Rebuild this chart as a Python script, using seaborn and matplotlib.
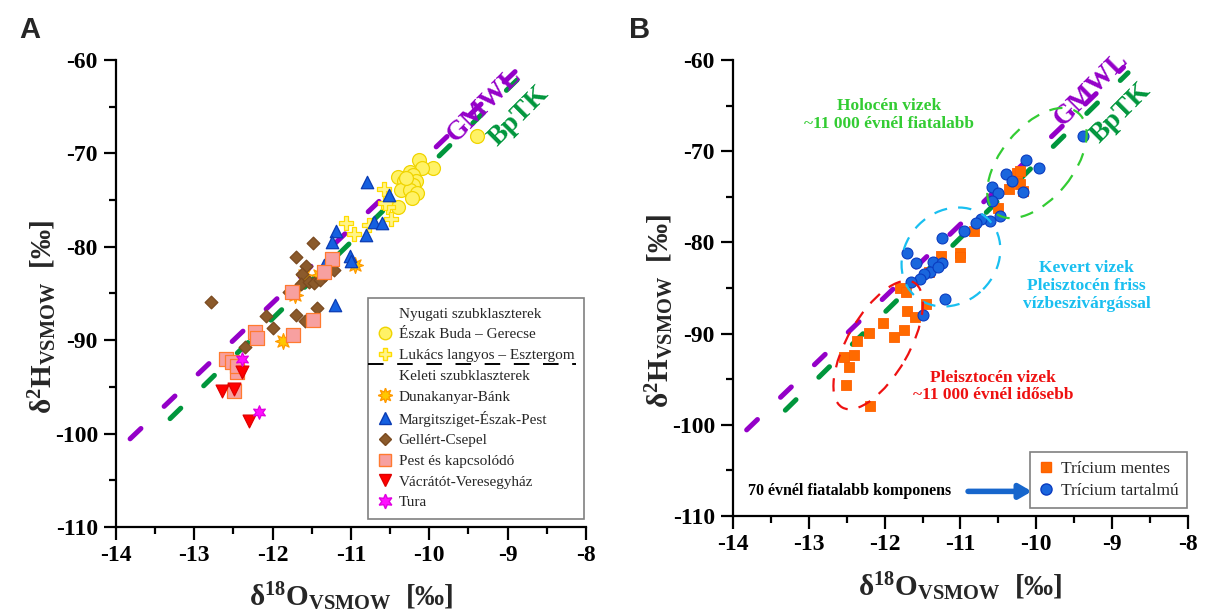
import numpy as np
import pandas as pd
import matplotlib
matplotlib.use("Agg")
import matplotlib.pyplot as plt
import seaborn as sns
from matplotlib.lines import Line2D
from matplotlib.patches import Ellipse

# ---------------- data (panel A) ----------------
eszak_buda_x = [-9.39, -10.13, -9.95, -10.09, -10.25, -10.40, -10.21, -10.32, -10.17, -10.21, -10.36, -10.25, -10.16, -10.22, -10.40, -10.30]
eszak_buda_y = [-68.1, -70.7, -71.6, -71.6, -72.0, -72.5, -72.3, -73.0, -73.0, -73.4, -73.9, -73.9, -74.2, -74.8, -75.7, -72.6]
lukacs_x = [-10.58, -10.53, -10.49, -11.07, -10.96, -10.77, -10.56]
lukacs_y = [-73.8, -75.7, -77.0, -77.5, -78.6, -77.7, -75.3]
dunakanyar_x = [-10.95, -11.60, -11.41, -11.71, -11.87]
dunakanyar_y = [-81.9, -83.0, -83.0, -85.2, -90.1]
margit_x = [-10.79, -10.51, -10.71, -10.60, -10.81, -11.19, -11.24, -11.01, -11.00, -11.35, -11.21]
margit_y = [-73.1, -74.5, -77.3, -77.5, -78.7, -78.3, -79.5, -81.0, -81.5, -82.0, -86.2]
gellert_x = [-11.49, -11.70, -11.57, -11.62, -11.64, -11.54, -11.47, -11.39, -11.33, -11.22, -11.79, -12.79, -12.08, -11.99, -11.70, -11.59, -11.44, -12.35]
gellert_y = [-79.6, -81.1, -82.1, -82.9, -84.0, -83.8, -83.9, -83.6, -83.0, -82.5, -84.8, -85.9, -87.4, -88.7, -87.3, -87.9, -86.6, -90.7]
pest_x = [-11.24, -11.35, -11.75, -11.49, -11.74, -12.22, -12.20, -12.59, -12.52, -12.46, -12.49, -12.46]
pest_y = [-81.3, -82.7, -84.8, -87.8, -89.4, -89.1, -89.8, -92.0, -92.3, -93.4, -95.4, -92.8]
vacratot_x = [-12.39, -12.65, -12.49, -12.30]
vacratot_y = [-93.4, -95.4, -95.2, -98.7]
tura_x = [-12.39, -12.18]
tura_y = [-92.0, -97.7]

# ---------------- data (panel B) ----------------
tartalmu_x = [-9.38, -10.13, -9.96, -10.40, -10.32, -10.18, -10.58, -10.51, -10.58, -10.48, -10.61, -10.73, -10.79, -10.96, -11.25, -11.71, -11.59, -11.36, -11.25, -11.40, -11.48, -11.53, -11.65, -11.21, -11.50, -11.30]
tartalmu_y = [-68.3, -71.0, -71.8, -72.5, -73.3, -74.5, -73.9, -74.6, -75.5, -77.1, -77.6, -77.4, -77.9, -78.8, -79.5, -81.2, -82.3, -82.1, -82.3, -83.3, -83.5, -84.0, -84.3, -86.2, -88.0, -82.7]
mentes_x = [-10.26, -10.21, -10.22, -10.17, -10.36, -10.51, -10.82, -11.01, -11.00, -11.26, -11.41, -11.80, -11.72, -11.45, -11.71, -11.60, -12.02, -12.20, -11.75, -11.88, -12.37, -12.53, -12.40, -12.47, -12.51, -12.19]
mentes_y = [-72.4, -72.2, -73.6, -74.4, -74.1, -76.2, -78.7, -81.2, -81.6, -81.5, -83.2, -85.0, -85.4, -86.8, -87.5, -88.2, -88.8, -89.9, -89.6, -90.4, -90.8, -92.6, -92.3, -93.7, -95.6, -97.9]

# reference lines (end points)
gmwl_x = [-13.82, -8.85]
gmwl_y = [-100.56, -60.8]
bptk_x = [-13.31, -8.79]
bptk_y = [-98.4, -61.4]

x_ticks = [-14, -13, -12, -11, -10, -9, -8]
y_ticks = [-110, -100, -90, -80, -70, -60]

# ---------------- style ----------------
sns.set_theme(style="ticks")
plt.rcParams["font.family"] = ["Liberation Serif", "DejaVu Serif"]
plt.rcParams["mathtext.fontset"] = "custom"
plt.rcParams["mathtext.rm"] = "Liberation Serif"
plt.rcParams["mathtext.bf"] = "Liberation Serif:bold"
plt.rcParams["mathtext.it"] = "Liberation Serif:italic"
plt.rcParams["axes.unicode_minus"] = False

PURPLE = "#9400c8"
GREEN = "#00963c"

fig = plt.figure(figsize=(12.05, 6.15), dpi=100)
fig.patch.set_facecolor("white")
W, H = 1205, 615
axA = fig.add_axes([116 / W, 1 - 527 / H, (586 - 116) / W, (527 - 60) / H])
axB = fig.add_axes([733 / W, 1 - 516 / H, (1188 - 733) / W, (516 - 60) / H])


def style(ax):
    ax.set_facecolor("white")
    ax.set_xlim(-14, -8)
    ax.set_ylim(-110, -60)
    sns.despine(ax=ax)
    for s in ["left", "bottom"]:
        ax.spines[s].set_linewidth(1.6)
        ax.spines[s].set_color("black")
    ax.set_xticks(x_ticks)
    ax.set_xticklabels([str(v) for v in x_ticks])
    ax.set_xticks([v + 0.5 for v in x_ticks[:-1]], minor=True)
    ax.set_yticks(y_ticks)
    ax.set_yticklabels([str(v) for v in y_ticks])
    ax.set_yticks([v + 5 for v in y_ticks[:-1]], minor=True)
    ax.tick_params(which="major", length=9, width=1.6, direction="out",
                   labelsize=17, pad=4, colors="black")
    ax.tick_params(which="minor", length=5, width=1.6, direction="out", colors="black")
    for lab in ax.get_xticklabels() + ax.get_yticklabels():
        lab.set_fontweight("bold")
    ax.set_xlabel(r"$\mathbf{δ^{18}O_{VSMOW}}$  [‰]", fontsize=21, fontweight="bold")
    ax.set_ylabel(r"$\mathbf{δ^{2}H_{VSMOW}}$  [‰]", fontsize=21, fontweight="bold")


def ref_lines(ax):
    lw = 3.6
    sns.lineplot(x=gmwl_x, y=gmwl_y, ax=ax, color=PURPLE, lw=lw,
                 dashes=False, zorder=2)
    sns.lineplot(x=bptk_x, y=bptk_y, ax=ax, color=GREEN, lw=lw,
                 dashes=False, zorder=2)
    for ln in ax.get_lines()[-2:]:
        ln.set_dashes((3.0, 6.4))
        ln.set_dash_capstyle("round")


for ax in (axA, axB):
    style(ax)
    ref_lines(ax)

# ---------------- panel A scatter ----------------
groupsA = [
    ("Észak Buda – Gerecse", eszak_buda_x, eszak_buda_y, "o", 100, "#fff266", "#f0d400"),
    ("Lukács langyos – Esztergom", lukacs_x, lukacs_y, "P", 90, "#fff48a", "#ffdc00"),
    ("Dunakanyar-Bánk", dunakanyar_x, dunakanyar_y, (8, 1, 0), 130, "#ffc800", "#ff9a00"),
    ("Margitsziget-Észak-Pest", margit_x, margit_y, "^", 80, "#1560e0", "#0a3cb4"),
    ("Gellért-Csepel", gellert_x, gellert_y, "D", 42, "#8b5a2b", "#7a4a20"),
    ("Pest és kapcsolódó", pest_x, pest_y, "s", 100, "#f7a0a0", "#ff7a30"),
    ("Vácrátót-Veresegyház", vacratot_x, vacratot_y, "v", 85, "#ff0000", "#e00000"),
    ("Tura", tura_x, tura_y, (6, 1, 0), 95, "#ff10ff", "#e000e0"),
]
for name, gx, gy, mk, s, fc, ec in groupsA:
    sns.scatterplot(x=gx, y=gy, ax=axA, marker=mk, s=s, color=fc,
                    edgecolor=ec, linewidth=0.9, zorder=3, legend=False)

axA.text(-9.30, -64.8, "GMWL", color=PURPLE, fontsize=20, fontweight="bold",
         rotation=45, ha="center", va="center", rotation_mode="anchor")
axA.text(-8.86, -66.0, "BpTK", color=GREEN, fontsize=20, fontweight="bold",
         rotation=45, ha="center", va="center", rotation_mode="anchor")


def hdr(lab):
    return Line2D([], [], linestyle="none", marker="None", label=lab)


def mh(name, mk, fc, ec, ms):
    return Line2D([], [], linestyle="none", marker=mk, markersize=ms,
                  markerfacecolor=fc, markeredgecolor=ec, label=name)


msz = {"o": 9, "P": 9, "^": 9, "D": 6.5, "s": 9, "v": 9}
hA = [hdr("Nyugati szubklaszterek")]
for i, (name, gx, gy, mk, s, fc, ec) in enumerate(groupsA):
    if i == 2:
        hA.append(hdr("Keleti szubklaszterek"))
    hA.append(mh(name, mk, fc, ec, msz.get(mk, 10) if isinstance(mk, str) else 10.5))

legA = axA.legend(handles=hA, loc="lower right", bbox_to_anchor=(0.995, 0.018),
                  fontsize=11, frameon=True, fancybox=False, edgecolor="#808080",
                  framealpha=1, labelspacing=0.46, handletextpad=0.4,
                  handlelength=1.0, borderpad=0.6, borderaxespad=0)
legA.get_frame().set_linewidth(1.2)

# ---------------- panel B scatter ----------------
sns.scatterplot(x=mentes_x, y=mentes_y, ax=axB, marker="s", s=60, color="#ff6a00",
                edgecolor="#ff6000", linewidth=0.6, zorder=3, legend=False)
sns.scatterplot(x=tartalmu_x, y=tartalmu_y, ax=axB, marker="o", s=62, color="#1a66dd",
                edgecolor="#0a3cc0", linewidth=0.8, zorder=4, legend=False)

axB.text(-9.28, -63.2, "GMWL", color=PURPLE, fontsize=20, fontweight="bold",
         rotation=45, ha="center", va="center", rotation_mode="anchor")
axB.text(-8.88, -65.8, "BpTK", color=GREEN, fontsize=20, fontweight="bold",
         rotation=45, ha="center", va="center", rotation_mode="anchor")

# group ellipses (axes coordinates)
for (cx, cy, w, h, ang, col) in [
    (0.668, 0.774, 0.285, 0.158, 50.5, "#33cc33"),
    (0.479, 0.568, 0.233, 0.200, 45.0, "#19bff0"),
    (0.319, 0.375, 0.316, 0.135, 60.0, "#ee1111"),
]:
    e = Ellipse((cx, cy), w, h, angle=ang, transform=axB.transAxes, fill=False,
                edgecolor=col, lw=1.6, linestyle=(0, (6, 5)), zorder=5)
    axB.add_patch(e)

axB.text(-11.94, -66.0, "Holocén vizek\n~11 000 évnél fiatalabb", color="#33cc33",
         fontsize=12.5, fontweight="bold", ha="center", va="center", linespacing=1.15)
axB.text(-9.34, -84.8, "Kevert vizek\nPleisztocén friss\nvízbeszivárgással", color="#19bff0",
         fontsize=12.5, fontweight="bold", ha="center", va="center", linespacing=1.15)
axB.text(-10.57, -95.8, "Pleisztocén vizek\n~11 000 évnél idősebb", color="#ee1111",
         fontsize=12.5, fontweight="bold", ha="center", va="center", linespacing=1.15)
axB.text(-12.46, -107.3, "70 évnél fiatalabb komponens", color="black",
         fontsize=11.5, fontweight="bold", ha="center", va="center")
axB.annotate("", xy=(-10.06, -107.3), xytext=(-10.90, -107.3),
             arrowprops=dict(arrowstyle="-|>,head_length=0.6,head_width=0.35",
                             color="#1766cc", lw=4, shrinkA=0, shrinkB=0))

hB = [mh("Trícium mentes", "s", "#ff6a00", "#ff6000", 7.5),
      mh("Trícium tartalmú", "o", "#1a66dd", "#0a3cc0", 8)]
legB = axB.legend(handles=hB, loc="lower right", bbox_to_anchor=(0.998, 0.018),
                  fontsize=12.5, frameon=True, fancybox=False, edgecolor="#808080",
                  framealpha=1, labelspacing=0.35, handletextpad=0.45,
                  handlelength=0.8, borderpad=0.5, borderaxespad=0)
legB.get_frame().set_linewidth(1.2)

# axis label positions
axA.yaxis.set_label_coords(-0.122, 0.45)
axA.xaxis.set_label_coords(0.50, -0.115)
axB.yaxis.set_label_coords(-0.126, 0.45)
axB.xaxis.set_label_coords(0.50, -0.118)

fig.text(30 / W, 1 - 30 / H, "A", fontsize=21, fontweight="bold", family="Liberation Sans",
         ha="center", va="center")
fig.text(640 / W, 1 - 30 / H, "B", fontsize=21, fontweight="bold", family="Liberation Sans",
         ha="center", va="center")

# dashed separator inside legend A
fig.canvas.draw()
renderer = fig.canvas.get_renderer()
texts = legA.get_texts()
t_up = texts[2].get_window_extent(renderer)
t_dn = texts[3].get_window_extent(renderer)
frame = legA.get_frame().get_window_extent(renderer)
ymid = (t_up.y0 + t_dn.y1) / 2.0 + 2.0
inv = fig.transFigure.inverted()
(x0f, yf), (x1f, _) = inv.transform([(frame.x0, ymid), (frame.x1 - 8, ymid)])
fig.add_artist(Line2D([x0f, x1f], [yf, yf], transform=fig.transFigure, color="black",
                      lw=1.4, linestyle=(0, (8, 7)), zorder=10))

fig.savefig("out.png", dpi=100, facecolor="white")
